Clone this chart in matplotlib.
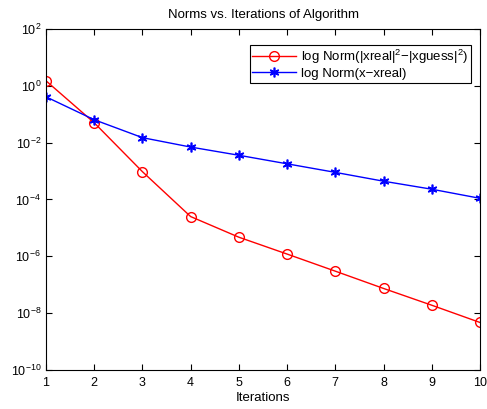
import matplotlib
matplotlib.use("Agg")
import matplotlib.pyplot as plt
import numpy as np

iterations = [1, 2, 3, 4, 5, 6, 7, 8, 9, 10]
norm_sq_diff = [1.5, 0.05, 9.5e-4, 2.5e-5, 4.7e-6, 1.2e-6, 3.0e-7, 7.4e-8, 1.9e-8, 4.7e-9]
norm_x_diff = [0.41, 0.064, 0.015, 7.0e-3, 3.6e-3, 1.8e-3, 9.0e-4, 4.4e-4, 2.3e-4, 1.1e-4]
y_ticks = [1e-10, 1e-8, 1e-6, 1e-4, 1e-2, 1e0, 1e2]

plt.rcParams["font.family"] = ["Liberation Sans", "DejaVu Sans"]
plt.rcParams["mathtext.fontset"] = "custom"
plt.rcParams["mathtext.rm"] = "Liberation Sans"

fig = plt.figure(figsize=(4.87, 4.09), dpi=100)
ax = fig.add_axes([0.0945, 0.0954, 0.8911, 0.8337])

ax.semilogy(iterations, norm_sq_diff, color="red", marker="o", markersize=7,
            markerfacecolor="none", linewidth=1,
            label="log Norm(|xreal|$^2$\u2212|xguess|$^2$)")
ax.semilogy(iterations, norm_x_diff, color="blue", marker=(6, 2, 0), markersize=7,
            markeredgewidth=1.2, linewidth=1, label="log Norm(x\u2212xreal)")

ax.set_xlim(1, 10)
ax.set_ylim(1e-10, 1e2)
ax.set_xticks(iterations)
ax.set_yticks(y_ticks)
ax.yaxis.set_minor_locator(matplotlib.ticker.NullLocator())
ax.tick_params(direction="in", which="both", top=True, right=True, labelsize=9, length=4)
ax.tick_params(axis="x", pad=5)
ax.set_xlabel("Iterations", fontsize=9.5, labelpad=2)
ax.set_title("Norms vs. Iterations of Algorithm", fontsize=9.5, pad=8)
for s in ax.spines.values():
    s.set_linewidth(0.8)

leg = ax.legend(loc="upper right", bbox_to_anchor=(0.979, 0.953), borderaxespad=0,
                fontsize=9.5, fancybox=False, framealpha=1,
                edgecolor="black", handlelength=3.3,
                handletextpad=0.4, borderpad=0.2, labelspacing=0.15)
leg.get_frame().set_linewidth(0.8)

fig.savefig("out.png", dpi=100)
